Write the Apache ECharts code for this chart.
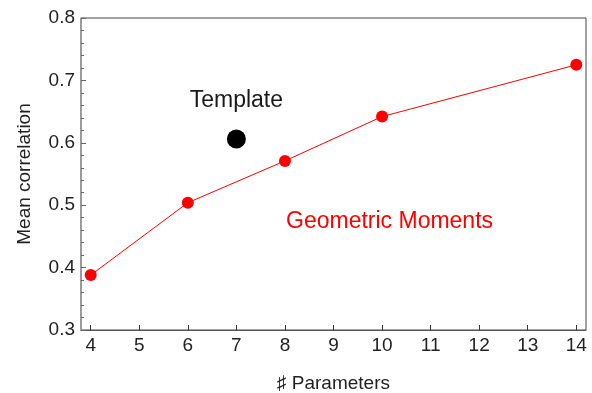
<!DOCTYPE html>
<html>
<head>
<meta charset="utf-8">
<script src="https://cdn.jsdelivr.net/npm/echarts@6/dist/echarts.min.js"></script>
<style>html,body{margin:0;padding:0;background:#fff}#c{width:592px;height:393px}</style>
</head>
<body>
<div id="c"></div>
<script>
// Data
const params = [4, 6, 8, 10, 14];
const geoMoments = [0.388, 0.504, 0.571, 0.642, 0.725];
const templateParams = [7];
const templateValue = [0.606];
const xTicks = [4, 5, 6, 7, 8, 9, 10, 11, 12, 13, 14];
const yTicks = [0.3, 0.4, 0.5, 0.6, 0.7, 0.8];

const FONT = '"Liberation Sans", Arial, Helvetica, sans-serif';
const chart = echarts.init(document.getElementById('c'), null, {renderer: 'canvas'});
chart.setOption({
  animation: false,
  backgroundColor: '#fff',
  grid: {left: 81, right: 6, top: 18, bottom: 63, outerBoundsMode: 'none', containLabel: false,
    show: true, borderColor: '#444', borderWidth: 1, backgroundColor: 'transparent'},
  xAxis: {
    type: 'value', min: 3.8, max: 14.2,
    name: '\u266F Parameters', nameLocation: 'middle', nameGap: 44,
    nameTextStyle: {fontFamily: FONT, fontSize: 19, color: '#222'},
    axisLine: {show: true, lineStyle: {color: '#555', width: 1}},
    axisTick: {show: true, inside: true, length: 5, lineStyle: {color: '#333'}, customValues: xTicks},
    axisLabel: {fontFamily: FONT, fontSize: 19, color: '#222', margin: 6, customValues: xTicks},
    splitLine: {show: false}
  },
  yAxis: {
    type: 'value', min: yTicks[0], max: yTicks[yTicks.length - 1], interval: 0.1,
    name: 'Mean correlation', nameLocation: 'middle', nameGap: 47,
    nameTextStyle: {fontFamily: FONT, fontSize: 19, color: '#222'},
    axisLine: {show: true, lineStyle: {color: '#999', width: 1.5}},
    axisTick: {show: true, inside: true, length: 5, lineStyle: {color: '#666'}},
    minorTick: {show: true, splitNumber: 5, length: 3, lineStyle: {color: '#666'}},
    axisLabel: {fontFamily: FONT, fontSize: 19, color: '#222', margin: 6, formatter: v => v.toFixed(1)},
    splitLine: {show: false}
  },
  series: [
    {
      type: 'line', data: params.map((p, i) => [p, geoMoments[i]]),
      symbol: 'circle', symbolSize: 12,
      lineStyle: {color: '#ff0000', width: 1},
      itemStyle: {color: '#ff0000', opacity: 1}
    },
    {
      type: 'scatter', data: templateParams.map((p, i) => [p, templateValue[i]]),
      symbol: 'circle', symbolSize: 19,
      itemStyle: {color: '#000', opacity: 1},
      label: {show: true, position: 'top', distance: 17, formatter: 'Template',
        fontFamily: FONT, fontSize: 23, color: '#1a1a1a', opacity: 1}
    }
  ],
  graphic: [
    {type: 'text', left: 286, top: 210, style: {text: 'Geometric Moments', fontFamily: FONT, fontSize: 23, fill: '#ff0000'}}
  ]
});
</script>
</body>
</html>
